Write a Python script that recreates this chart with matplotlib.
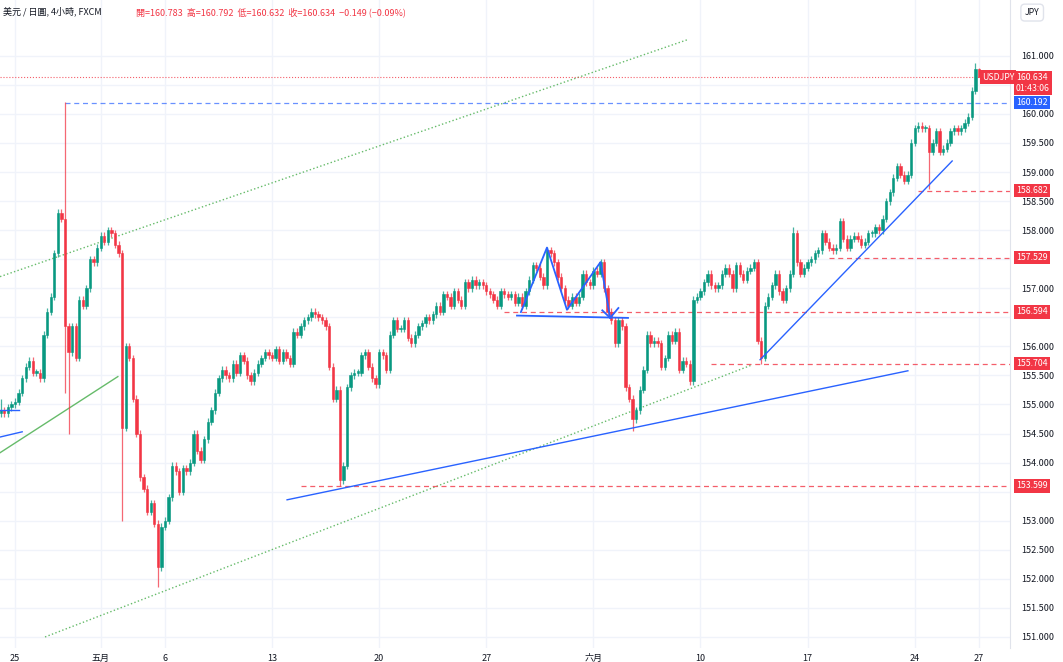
import matplotlib.pyplot as plt
import matplotlib.ticker as mticker
from matplotlib.patches import Rectangle

plt.rcParams['font.family'] = ['Noto Sans CJK JP', 'DejaVu Sans']

# 4h closes, 6 candles per trading day (Apr 24 .. Jun 27)
closes = [
    154.80, 154.85, 154.90, 154.85, 154.95, 155.00,   # Apr 24
    155.05, 155.20, 155.45, 155.65, 155.75, 155.55,   # Apr 25
    155.55, 155.45, 156.20, 156.60, 156.85, 157.60,   # Apr 26
    158.30, 158.20, 156.35, 155.90, 156.35, 155.80,   # Apr 29
    156.80, 156.70, 157.00, 157.50, 157.45, 157.70,   # Apr 30
    157.90, 157.80, 158.00, 157.95, 157.75, 157.60,   # May 1
    154.60, 156.00, 155.80, 155.10, 154.50, 153.75,   # May 2
    153.55, 153.15, 153.30, 152.95, 152.20, 152.90,   # May 3
    153.00, 153.40, 153.95, 153.85, 153.50, 153.90,   # May 6
    153.85, 154.00, 154.50, 154.20, 154.05, 154.40,   # May 7
    154.70, 154.90, 155.20, 155.45, 155.60, 155.50,   # May 8
    155.45, 155.70, 155.55, 155.85, 155.75, 155.50,   # May 9
    155.40, 155.55, 155.70, 155.80, 155.90, 155.85,   # May 10
    155.80, 155.95, 155.75, 155.90, 155.80, 155.70,   # May 13
    156.25, 156.20, 156.35, 156.45, 156.50, 156.60,   # May 14
    156.55, 156.50, 156.45, 156.35, 155.65, 155.10,   # May 15
    155.25, 153.70, 153.95, 155.30, 155.50, 155.55,   # May 16
    155.55, 155.85, 155.90, 155.65, 155.45, 155.35,   # May 17
    155.90, 155.85, 155.60, 156.20, 156.45, 156.30,   # May 20
    156.30, 156.45, 156.15, 156.05, 156.20, 156.35,   # May 21
    156.40, 156.50, 156.45, 156.55, 156.70, 156.60,   # May 22
    156.90, 156.85, 156.70, 156.95, 156.80, 156.70,   # May 23
    157.10, 157.00, 157.15, 157.05, 157.10, 157.05,   # May 24
    156.95, 156.90, 156.80, 156.70, 156.95, 156.90,   # May 27
    156.85, 156.90, 156.75, 156.85, 156.70, 156.95,   # May 28
    157.15, 157.40, 157.35, 157.20, 157.05, 157.65,   # May 29
    157.60, 157.45, 157.20, 157.00, 156.80, 156.70,   # May 30
    156.85, 156.75, 156.85, 157.25, 157.10, 157.05,   # May 31
    157.30, 157.25, 157.45, 157.00, 156.60, 156.45,   # Jun 3
    156.05, 156.45, 156.35, 155.30, 155.10, 154.75,   # Jun 4
    154.90, 155.25, 155.60, 156.20, 156.05, 156.10,   # Jun 5
    156.05, 155.65, 155.80, 156.20, 156.10, 156.25,   # Jun 6
    155.60, 155.75, 155.70, 155.40, 156.80, 156.85,   # Jun 7
    156.95, 157.10, 157.25, 157.05, 157.00, 157.05,   # Jun 10
    157.25, 157.35, 157.25, 157.00, 157.40, 157.25,   # Jun 11
    157.15, 157.30, 157.35, 157.45, 156.10, 155.80,   # Jun 12
    156.70, 156.85, 157.05, 157.25, 156.95, 156.80,   # Jun 13
    157.00, 157.25, 157.95, 157.45, 157.25, 157.35,   # Jun 14
    157.45, 157.50, 157.60, 157.65, 157.95, 157.80,   # Jun 17
    157.70, 157.65, 157.70, 158.15, 157.85, 157.70,   # Jun 18
    157.85, 157.90, 157.85, 157.75, 157.80, 157.95,   # Jun 19
    157.95, 158.05, 158.00, 158.20, 158.50, 158.65,   # Jun 20
    158.90, 159.10, 158.95, 158.85, 158.95, 159.50,   # Jun 21
    159.75, 159.80, 159.75, 159.75, 159.35, 159.50,   # Jun 24
    159.70, 159.35, 159.40, 159.50, 159.70, 159.75,   # Jun 25
    159.70, 159.75, 159.85, 159.95, 160.40, 160.78,   # Jun 26
    160.634,                                          # Jun 27
]
first_open = 154.75
# long wicks: index -> value
wick_high = {20: 160.20, 224: 158.05, 276: 160.792, 275: 160.87, 2: 155.10}
wick_low = {20: 155.20, 21: 154.50, 36: 153.00, 46: 151.86, 97: 153.60,
            179: 154.55, 215: 155.70, 262: 158.70, 276: 160.632}

day_labels = ['25', '五月', '6', '13', '20', '27', '六月', '10', '17', '24', '27']
day_label_idx = [6, 30, 48, 78, 108, 138, 168, 198, 228, 258, 276]

# axis labels hidden behind the price badges in the reference
price_ticks = [151 + 0.5 * k for k in range(21) if k not in (5, 11, 13, 19)]

price_levels = [158.682, 157.529, 156.594, 155.704, 153.599]
level_start = [259, 234, 143, 201, 86]
blue_level, blue_start = 160.192, 20
last_price = 160.634

UP, DOWN = '#089981', '#F23645'
BLUE = '#2962FF'

fig = plt.figure(figsize=(10.63, 6.62), dpi=100)
ax = fig.add_axes([0, 14 / 662, 1010 / 1063, 648 / 662])

opens = [first_open] + closes[:-1]
for i, (o, c) in enumerate(zip(opens, closes)):
    col = UP if c >= o else DOWN
    hi = wick_high.get(i, max(o, c) + 0.06)
    lo = wick_low.get(i, min(o, c) - 0.06)
    ax.vlines(i, lo, hi, color=col, lw=0.9, alpha=0.75, zorder=3)
    ax.add_patch(Rectangle((i - 0.33, min(o, c)), 0.66, max(abs(c - o), 0.02),
                           facecolor=col, edgecolor=col, lw=0.4, zorder=4))

# drawings
ax.plot([1.8, 194.5], [157.2, 161.28], ':', color='#66bb6a', lw=1.0, zorder=2)
ax.plot([14.4, 212.4], [151.0, 155.68], ':', color='#66bb6a', lw=1.0, zorder=2)
ax.plot([1.8, 34.8], [154.17, 155.48], '-', color='#66bb6a', lw=1.0, zorder=2)
ax.plot([1.8, 7.0], [154.90, 154.90], '-', color=BLUE, lw=1.0, zorder=5)
ax.plot([1.8, 8.0], [154.44, 154.53], '-', color=BLUE, lw=1.0, zorder=5)
ax.plot([82.2, 256.1], [153.36, 155.58], '-', color=BLUE, lw=1.0, zorder=5)
ax.plot([214.7, 268.5], [155.77, 159.19], '-', color=BLUE, lw=1.0, zorder=5)
ax.plot([147.7, 155.0, 160.6, 170.0, 172.7], [156.59, 157.70, 156.63, 157.45, 156.49],
        '-', color=BLUE, lw=1.3, zorder=5)
ax.plot([170.5, 172.7, 175.0], [156.62, 156.49, 156.66], '-', color=BLUE, lw=1.3, zorder=5)
ax.plot([146.6, 177.7], [156.53, 156.49], '-', color=BLUE, lw=1.3, zorder=5)

ax.hlines(blue_level, blue_start, 300, colors=BLUE, linestyles=(0, (4, 3)), lw=0.9, alpha=0.7)
ax.axhline(last_price, color=DOWN, ls=':', lw=0.8, alpha=0.8)
for lvl, st in zip(price_levels, level_start):
    ax.hlines(lvl, st, 300, colors=DOWN, linestyles=(0, (4, 3)), lw=0.9, alpha=0.8)

ax.set_xlim(1.79, 284.7)
ax.set_ylim(150.81, 161.96)
ax.set_yticks(price_ticks)
ax.yaxis.set_major_formatter(mticker.FormatStrFormatter('%.3f'))
ax.yaxis.tick_right()
ax.set_xticks(day_label_idx)
ax.set_xticklabels(day_labels)
ax.tick_params(axis='both', length=0, labelsize=6.5, colors='#131722', pad=4)
ax.tick_params(axis='y', pad=8)
ax.set_yticks([151 + 0.5 * k for k in range(21)], minor=True)
ax.grid(True, which='both', color='#f0f3fa', lw=1.0, zorder=0)
ax.tick_params(which='minor', length=0)
for s in ax.spines.values():
    s.set_visible(False)
ax.spines['right'].set_visible(True)
ax.spines['right'].set_color('#e0e3eb')

# price badges on the axis
def badge(price, text, color, dy=0.0):
    ax.annotate(text, xy=(1.006, price + dy), xycoords=('axes fraction', 'data'),
                fontsize=6.3, color='white', va='center', ha='left',
                bbox=dict(boxstyle='square,pad=0.25', fc=color, ec='none'), zorder=10)

for lvl in price_levels:
    badge(lvl, f'{lvl:.3f}', DOWN)
badge(blue_level, f'{blue_level:.3f}', BLUE)
badge(last_price, f'{last_price:.3f}\n01:43:06', DOWN, dy=-0.1)
ax.annotate('USDJPY', xy=(0.972, last_price), xycoords=('axes fraction', 'data'),
            fontsize=6.3, color='white', va='center', ha='left',
            bbox=dict(boxstyle='square,pad=0.25', fc=DOWN, ec='none'), zorder=10)

fig.text(0.003, 0.982, '美元 / 日圓, 4小時, FXCM', fontsize=6.5, color='#131722', va='center')
fig.text(0.128, 0.982, '開=160.783  高=160.792  低=160.632  收=160.634  −0.149 (−0.09%)',
         fontsize=6.5, color=DOWN, va='center')
fig.text(0.971, 0.981, 'JPY', fontsize=6.3, color='#131722', va='center', ha='center',
         bbox=dict(boxstyle='round,pad=0.45', fc='white', ec='#e0e3eb'))

fig.savefig('out.png', dpi=100)
